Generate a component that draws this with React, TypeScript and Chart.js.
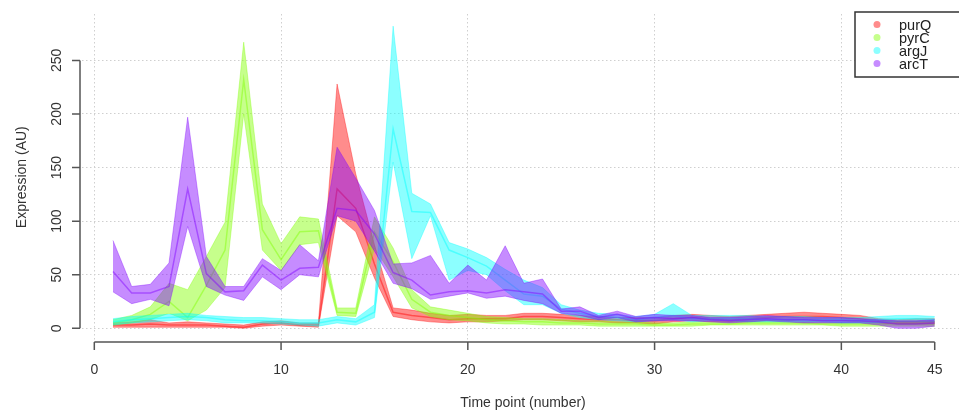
import React, { useEffect, useRef } from "react";
import { Chart, registerables } from "chart.js";

Chart.register(...registerables);

// Time points (x) and axis ticks
const timePoints = [1, 2, 3, 4, 5, 6, 7, 8, 9, 10, 11, 12, 13, 14, 15, 16, 17, 18, 19, 20, 21, 22, 23, 24, 25, 26, 27, 28, 29, 30, 31, 32, 33, 34, 35, 36, 37, 38, 39, 40, 41, 42, 43, 44, 45];
const xAxisTicks = [0, 10, 20, 30, 40, 45];
const xGridTicks = [0, 10, 20, 30, 40];
const yAxisTicks = [0, 50, 100, 150, 200, 250];

const geneNames = ["purQ", "pyrC", "argJ", "arcT"];
const geneRgb = ["255,0,0", "128,255,0", "0,255,255", "128,0,255"];

// purQ: lower / mean / upper
const purQLow = [1, 1, 1, 1, 1, 1, 1, 0, 2, 3, 2, 1, 105, 90, 47, 11, 8, 6, 5, 6, 6, 7, 8, 8, 7, 6, 6, 5, 5, 4, 6, 7, 6, 6, 6, 7, 7, 8, 7, 7, 6, 5, 4, 4, 4];
const purQMean = [3, 3, 4, 3, 3, 3, 2, 1, 4, 5, 3, 3, 130, 112, 60, 15, 12, 10, 8, 9, 9, 9, 11, 11, 10, 9, 8, 8, 7, 7, 9, 10, 9, 8, 9, 10, 11, 11, 11, 10, 9, 7, 6, 6, 6];
const purQHigh = [5, 6, 8, 5, 6, 5, 4, 3, 6, 7, 5, 5, 228, 144, 78, 19, 17, 14, 12, 13, 12, 12, 14, 14, 13, 12, 11, 10, 10, 10, 12, 13, 12, 11, 12, 13, 14, 15, 14, 13, 12, 9, 8, 9, 9];

// pyrC: lower / mean / upper
const pyrCLow = [3, 5, 8, 14, 7, 17, 38, 200, 73, 54, 78, 80, 12, 11, 75, 48, 19, 11, 8, 7, 5, 4, 4, 3, 3, 3, 2, 2, 2, 2, 2, 2, 3, 3, 3, 3, 3, 3, 3, 2, 2, 2, 2, 2, 2];
const pyrCMean = [5, 8, 13, 25, 10, 40, 73, 232, 92, 64, 90, 91, 15, 14, 90, 62, 27, 15, 12, 10, 8, 7, 6, 6, 5, 5, 4, 4, 4, 3, 3, 4, 4, 4, 5, 5, 5, 5, 4, 4, 4, 4, 4, 4, 4];
const pyrCHigh = [8, 12, 20, 42, 36, 67, 99, 267, 116, 79, 104, 102, 19, 19, 104, 75, 36, 20, 17, 14, 11, 10, 9, 9, 8, 7, 7, 6, 6, 5, 5, 6, 6, 6, 7, 7, 7, 7, 6, 6, 6, 6, 6, 6, 6];

// argJ: lower / mean / upper
const argJLow = [3, 5, 6, 7, 8, 7, 5, 5, 5, 4, 3, 2, 5, 3, 10, 155, 65, 105, 45, 54, 50, 35, 22, 22, 14, 10, 8, 7, 6, 7, 8, 6, 7, 7, 6, 6, 6, 6, 6, 5, 5, 5, 6, 6, 6];
const argJMean = [6, 8, 9, 10, 11, 10, 8, 7, 7, 6, 5, 5, 8, 6, 15, 186, 109, 108, 73, 66, 58, 45, 32, 30, 18, 14, 11, 10, 8, 10, 12, 9, 9, 9, 9, 8, 8, 8, 8, 8, 7, 8, 9, 9, 8];
const argJHigh = [9, 11, 12, 13, 14, 12, 11, 10, 10, 9, 8, 8, 11, 9, 22, 282, 126, 116, 80, 74, 66, 55, 45, 38, 22, 17, 14, 13, 11, 13, 23, 12, 12, 12, 12, 11, 11, 11, 10, 10, 10, 11, 12, 12, 11];

// arcT: lower / mean / upper
const arcTLow = [34, 23, 27, 21, 95, 39, 31, 26, 48, 36, 50, 48, 105, 100, 72, 42, 37, 27, 30, 33, 28, 30, 26, 23, 14, 12, 8, 10, 6, 7, 7, 7, 6, 5, 6, 7, 6, 5, 5, 5, 5, 3, 0, 0, 2];
const arcTMean = [53, 33, 33, 39, 130, 51, 34, 35, 59, 45, 56, 57, 112, 110, 88, 52, 45, 31, 34, 35, 33, 36, 34, 32, 16, 16, 10, 13, 9, 10, 9, 10, 8, 7, 8, 9, 8, 8, 7, 7, 7, 6, 4, 4, 5];
const arcTHigh = [82, 39, 41, 61, 197, 67, 39, 39, 65, 54, 78, 63, 169, 140, 110, 60, 61, 68, 42, 59, 45, 77, 42, 46, 18, 20, 12, 16, 11, 13, 12, 12, 10, 10, 11, 12, 11, 10, 10, 10, 9, 8, 7, 7, 8];

const bands = [
  { low: purQLow, mean: purQMean, high: purQHigh },
  { low: pyrCLow, mean: pyrCMean, high: pyrCHigh },
  { low: argJLow, mean: argJMean, high: argJHigh },
  { low: arcTLow, mean: arcTMean, high: arcTHigh },
];

const xTitle = "Time point (number)";
const yTitle = "Expression (AU)";

const FONT = '"Liberation Sans", Arial, sans-serif';
const AXIS_COLOR = "#555";
const TEXT_COLOR = "#333";

const toPoints = (vals: number[]) => timePoints.map((t, i) => ({ x: t, y: vals[i] }));

// Base-graphics style axes, titles and legend drawn over the plot
const baseAxesPlugin = {
  id: "baseAxes",
  afterDraw(chart: any) {
    const { ctx, scales } = chart;
    const xs = scales.x;
    const ys = scales.y;
    ctx.save();

    // y axis
    const axX = 80;
    ctx.strokeStyle = AXIS_COLOR;
    ctx.lineWidth = 1.5;
    ctx.beginPath();
    ctx.moveTo(axX, ys.getPixelForValue(yAxisTicks[0]));
    ctx.lineTo(axX, ys.getPixelForValue(yAxisTicks[yAxisTicks.length - 1]));
    for (const v of yAxisTicks) {
      const py = ys.getPixelForValue(v);
      ctx.moveTo(axX, py);
      ctx.lineTo(axX - 8, py);
    }
    ctx.stroke();
    ctx.fillStyle = TEXT_COLOR;
    ctx.font = `14px ${FONT}`;
    for (const v of yAxisTicks) {
      const py = ys.getPixelForValue(v);
      ctx.save();
      ctx.translate(61, py);
      ctx.rotate(-Math.PI / 2);
      ctx.textAlign = "center";
      ctx.textBaseline = "alphabetic";
      ctx.fillText(String(v), 0, 0);
      ctx.restore();
    }

    // x axis
    const axY = 342;
    ctx.beginPath();
    ctx.moveTo(xs.getPixelForValue(xAxisTicks[0]), axY);
    ctx.lineTo(xs.getPixelForValue(xAxisTicks[xAxisTicks.length - 1]), axY);
    for (const v of xAxisTicks) {
      const px = xs.getPixelForValue(v);
      ctx.moveTo(px, axY);
      ctx.lineTo(px, axY + 8);
    }
    ctx.stroke();
    ctx.textAlign = "center";
    ctx.textBaseline = "alphabetic";
    for (const v of xAxisTicks) {
      ctx.fillText(String(v), xs.getPixelForValue(v), 374);
    }

    // titles
    const area = chart.chartArea;
    ctx.fillText(xTitle, 523, 407);
    ctx.save();
    ctx.translate(26, (area.top + area.bottom) / 2);
    ctx.rotate(-Math.PI / 2);
    ctx.textAlign = "center";
    ctx.fillText(yTitle, 0, 0);
    ctx.restore();

    // legend
    ctx.fillStyle = "#fff";
    ctx.fillRect(855, 12, 120, 65);
    ctx.strokeStyle = "#333";
    ctx.lineWidth = 1.5;
    ctx.strokeRect(855, 12, 120, 65);
    ctx.font = `14.5px ${FONT}`;
    ctx.textAlign = "left";
    ctx.textBaseline = "middle";
    geneNames.forEach((name, i) => {
      const cy = 24.5 + i * 13;
      ctx.fillStyle = `rgba(${geneRgb[i]},0.45)`;
      ctx.beginPath();
      ctx.arc(877, cy, 3.5, 0, Math.PI * 2);
      ctx.fill();
      ctx.fillStyle = "#222";
      ctx.fillText(name, 899, cy + 1);
    });

    ctx.restore();
  },
};

export default function App() {
  const canvasRef = useRef<HTMLCanvasElement | null>(null);

  useEffect(() => {
    if (!canvasRef.current) return;
    const datasets: any[] = [];
    bands.forEach((b, s) => {
      const fillCol = `rgba(${geneRgb[s]},0.45)`;
      const order = bands.length - s;
      datasets.push({
        label: `${geneNames[s]} upper`,
        data: toPoints(b.high),
        borderColor: fillCol,
        backgroundColor: fillCol,
        borderWidth: 0.8,
        pointRadius: 0,
        tension: 0,
        fill: "+1",
        order,
      });
      datasets.push({
        label: `${geneNames[s]} lower`,
        data: toPoints(b.low),
        borderColor: fillCol,
        backgroundColor: fillCol,
        borderWidth: 0.8,
        pointRadius: 0,
        tension: 0,
        fill: false,
        order,
      });
      datasets.push({
        label: geneNames[s],
        data: toPoints(b.mean),
        borderColor: fillCol,
        borderWidth: 1.5,
        pointRadius: 0,
        tension: 0,
        fill: false,
        order,
      });
    });

    const chart = new Chart(canvasRef.current, {
      type: "line",
      data: { datasets },
      options: {
        responsive: false,
        maintainAspectRatio: false,
        animation: false,
        layout: { padding: { left: 82, top: 14, right: 0, bottom: 70.6 } },
        plugins: { legend: { display: false }, tooltip: { enabled: false } },
        scales: {
          x: {
            type: "linear",
            min: -0.659,
            max: 46.3,
            afterBuildTicks: (scale: any) => {
              scale.ticks = xGridTicks.map((v) => ({ value: v }));
            },
            ticks: { display: false },
            grid: { color: "#cfcfcf", lineWidth: 1, drawTicks: false, tickLength: 0 },
            border: { display: false, dash: [1.5, 2.5] },
          },
          y: {
            type: "linear",
            min: -11.3,
            max: 293.3,
            afterBuildTicks: (scale: any) => {
              scale.ticks = yAxisTicks.map((v) => ({ value: v }));
            },
            ticks: { display: false },
            grid: { color: "#cfcfcf", lineWidth: 1, drawTicks: false, tickLength: 0 },
            border: { display: false, dash: [1.5, 2.5] },
          },
        },
      },
      plugins: [baseAxesPlugin],
    });
    return () => chart.destroy();
  }, []);

  return (
    <div style={{ position: "fixed", left: 0, top: 0, width: 959, height: 411, background: "#fff" }}>
      <canvas ref={canvasRef} width={959} height={411} style={{ display: "block" }} />
    </div>
  );
}
